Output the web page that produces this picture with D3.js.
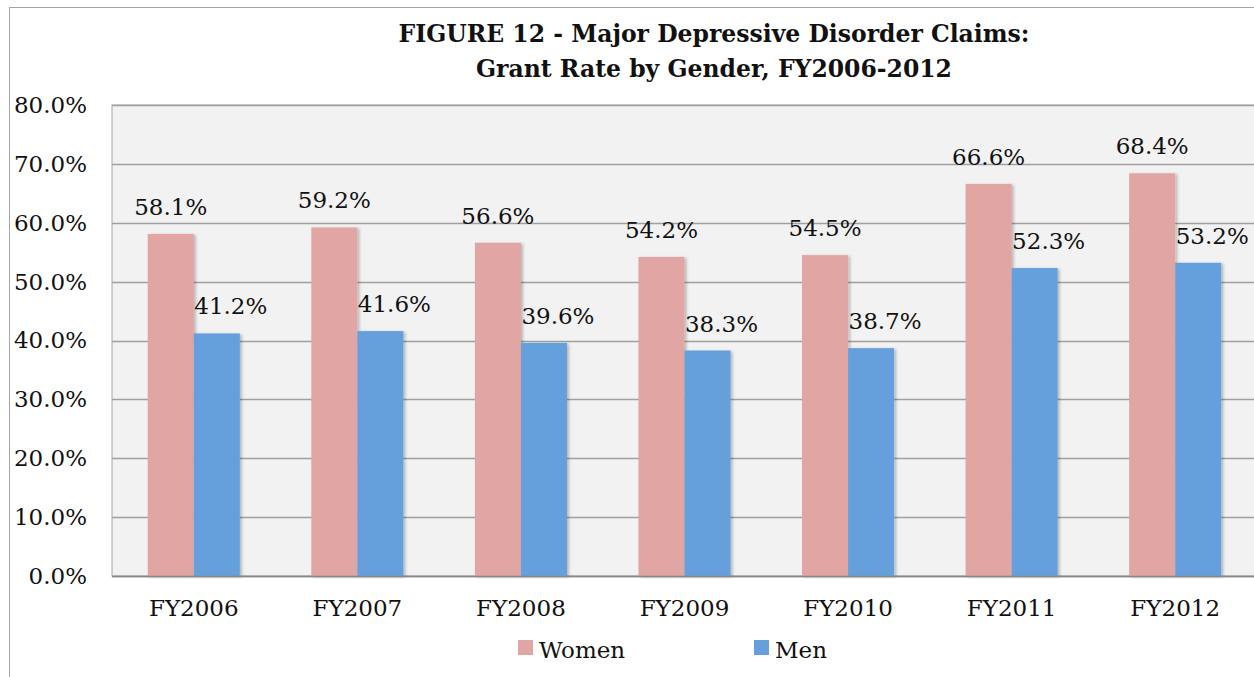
<!DOCTYPE html>
<html>
<head>
<meta charset="utf-8">
<script src="https://cdn.jsdelivr.net/npm/d3@7"></script>
<style>
  body { margin: 0; background: #fff; }
  svg text { font-family: "DejaVu Serif", serif; fill: #111; }
</style>
</head>
<body>
<svg id="chart" width="1254" height="677"></svg>
<script>
var years = ["FY2006", "FY2007", "FY2008", "FY2009", "FY2010", "FY2011", "FY2012"];
var women = [58.1, 59.2, 56.6, 54.2, 54.5, 66.6, 68.4];
var men = [41.2, 41.6, 39.6, 38.3, 38.7, 52.3, 53.2];
var seriesNames = ["Women", "Men"];
var yTicks = [0, 10, 20, 30, 40, 50, 60, 70, 80];

(function gradeChart() {
    var svg = d3.select("#chart"),
        left = 112, top = 105, right = 1257, bottom = 576;

    var color = d3.scaleOrdinal().domain(seriesNames).range(["#e1a5a4", "#65a0dc"]);

    // drop shadow like the original
    var defs = svg.append("defs");
    var f = defs.append("filter").attr("id", "shadow")
                .attr("x", "-10%").attr("y", "-5%").attr("width", "130%").attr("height", "120%");
    f.append("feDropShadow").attr("dx", 2).attr("dy", 1).attr("stdDeviation", 1.5)
     .attr("flood-color", "#000").attr("flood-opacity", 0.25);

    // outer chart border
    svg.append("rect")
       .attr("x", 9.5).attr("y", 7.5).attr("width", 1300).attr("height", 700)
       .attr("fill", "#fff").attr("stroke", "#a6a6a6");

    var x = d3.scaleBand().domain(years).range([left, right]).paddingInner(0.437).paddingOuter(0.2185);
    var xs = d3.scaleBand().domain(seriesNames).range([0, x.bandwidth()]);
    var y = d3.scaleLinear().domain([0, 80]).range([bottom, top]);

    svg.append("rect")
       .attr("x", left).attr("y", top).attr("width", right - left).attr("height", bottom - top)
       .attr("fill", "#f2f2f2").attr("stroke", "#a6a6a6");

    // gridlines
    svg.append("g").selectAll("line").data(yTicks).enter().append("line")
       .attr("x1", left).attr("x2", right)
       .attr("y1", function(d) { return Math.round(y(d)) + 0.5; })
       .attr("y2", function(d) { return Math.round(y(d)) + 0.5; })
       .attr("stroke", "#a0a0a0").attr("stroke-width", 1.5);

    // y axis labels
    var yAxis = d3.axisLeft(y).tickValues(yTicks).tickSize(0).tickPadding(0)
                  .tickFormat(function(d) { return d.toFixed(1) + "%"; });
    var gy = svg.append("g").attr("transform", "translate(87,0)").call(yAxis);
    gy.select(".domain").remove();
    gy.selectAll("text").style("font-size", "23px").style("font-family", "DejaVu Serif").attr("fill", "#111");

    var data = years.map(function(d, i) { return { year: d, Women: women[i], Men: men[i] }; });

    var groups = svg.append("g").selectAll("g").data(data).enter().append("g")
                    .attr("transform", function(d) { return "translate(" + x(d.year) + ",0)"; });

    groups.selectAll("rect").data(function(d) {
        return seriesNames.map(function(s) { return { key: s, value: d[s] }; });
    }).enter().append("rect")
      .attr("x", function(d) { return xs(d.key); })
      .attr("y", function(d) { return y(d.value); })
      .attr("width", xs.bandwidth())
      .attr("height", function(d) { return bottom - y(d.value); })
      .attr("fill", function(d) { return color(d.key); })
      .attr("filter", "url(#shadow)");

    groups.selectAll("text").data(function(d) {
        return seriesNames.map(function(s) { return { key: s, value: d[s] }; });
    }).enter().append("text")
      .attr("x", function(d) { return xs(d.key) + xs.bandwidth() / 2 + (d.key === "Men" ? 14 : 0); })
      .attr("y", function(d) { return y(d.value) - 19; })
      .attr("text-anchor", "middle")
      .style("font-size", "23px")
      .text(function(d) { return d.value.toFixed(1) + "%"; });

    // bottom axis line
    svg.append("line").attr("x1", left).attr("x2", right).attr("y1", bottom + 0.5).attr("y2", bottom + 0.5)
       .attr("stroke", "#888").attr("stroke-width", 1.5);

    var xAxis = d3.axisBottom(x).tickSize(0).tickPadding(0);
    var gx = svg.append("g").attr("transform", "translate(0,600)").call(xAxis);
    gx.select(".domain").remove();
    gx.selectAll("text").style("font-size", "23px").style("font-family", "DejaVu Serif").attr("fill", "#111");

    // legend
    var legendX = [518, 754];
    var lg = svg.append("g").selectAll("g").data(seriesNames).enter().append("g")
                .attr("transform", function(d, i) { return "translate(" + legendX[i] + ",640)"; });
    lg.append("rect").attr("width", 15).attr("height", 15).attr("fill", function(d) { return color(d); });
    lg.append("text").attr("x", 21).attr("y", 18).style("font-size", "23px").text(function(d) { return d; });

    // title
    var title = svg.append("text").attr("x", 714).attr("text-anchor", "middle")
                   .style("font-size", "23.5px").style("font-weight", "bold");
    title.append("tspan").attr("x", 714).attr("y", 42).text("FIGURE 12 - Major Depressive Disorder Claims:");
    title.append("tspan").attr("x", 714).attr("y", 77).text("Grant Rate by Gender, FY2006-2012");
}());
</script>
</body>
</html>
